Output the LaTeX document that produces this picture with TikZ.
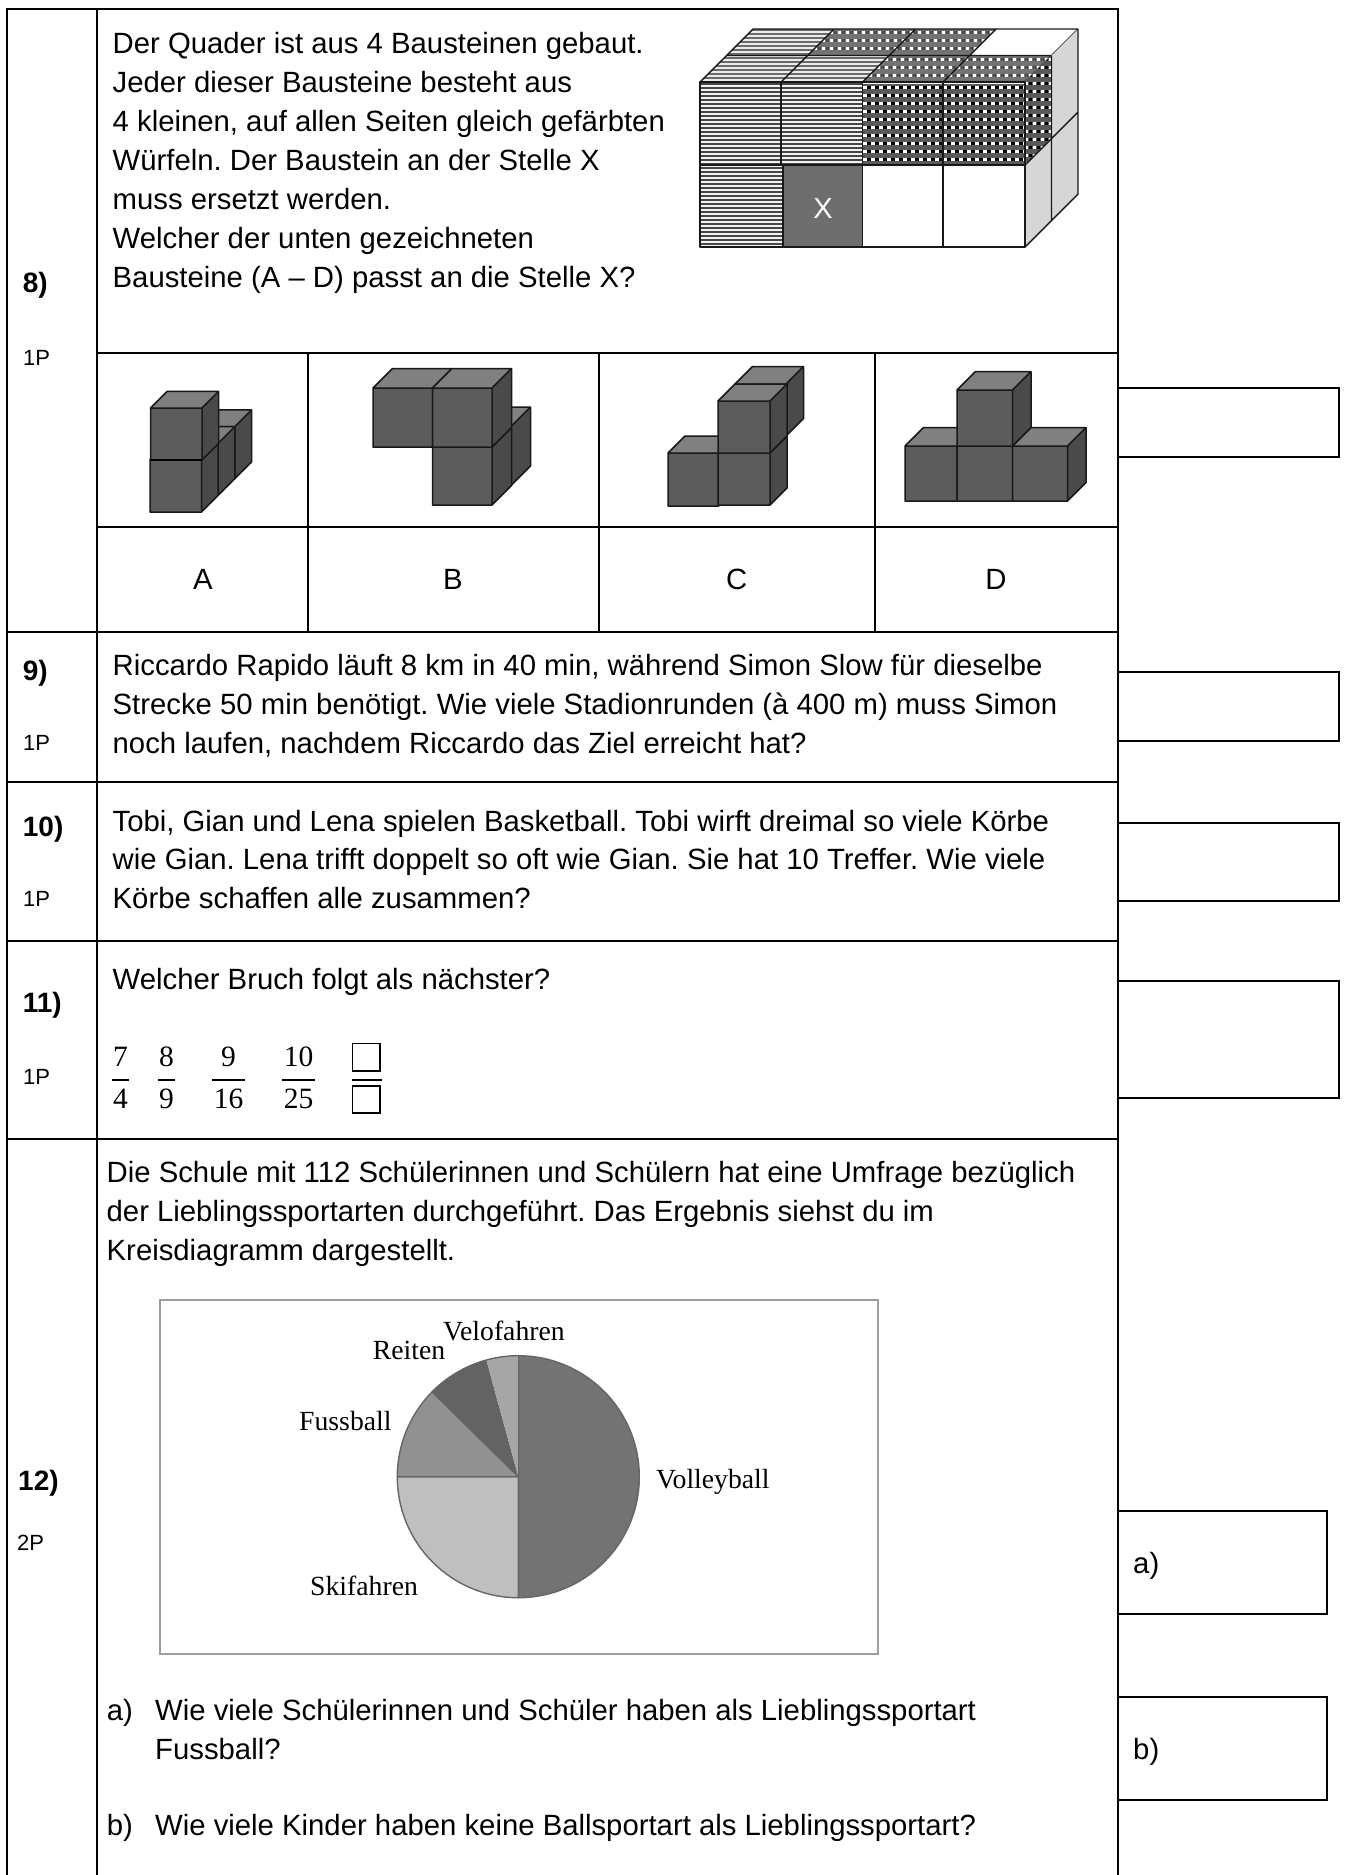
\documentclass[tikz,border=0pt]{standalone}
\usepackage{fontspec}
\setmainfont{Liberation Sans}
\newfontfamily\chartfont{Liberation Serif}
\frenchspacing
\tikzset{
  rulex/.style={draw=black,line width=2pt},
  boxline/.style={draw=black,line width=2.2pt},
  edge/.style={draw=black!90,line width=1.4pt,line join=round},
  cubeedge/.style={draw=black!90,line width=1.5pt,line join=round},
  txt/.style={anchor=base west,inner sep=0pt,yshift=-1pt,font=\fontsize{29.3}{32}\selectfont},
  ctxt/.style={anchor=base,inner sep=0pt,yshift=-1pt,font=\fontsize{29.3}{32}\selectfont},
  num/.style={anchor=base west,inner sep=0pt,font=\fontsize{28}{30}\selectfont\bfseries},
  pts/.style={anchor=base west,inner sep=0pt,font=\fontsize{22}{26}\selectfont},
  frac/.style={anchor=base,inner sep=0pt,yshift=-1pt,font=\chartfont\fontsize{29.5}{32}\selectfont},
  lab/.style={anchor=base west,inner sep=0pt,font=\chartfont\fontsize{27.7}{30}\selectfont},
  fracbar/.style={draw=black,line width=1.6pt},
  slice/.style={draw=black!60,line width=1.4pt,line join=round},
}
% cube: front-left x, front-bottom y, width, height, depth
\newcommand\bcube[5]{%
  \fill[black!71] (#1+#3,#2) -- (#1+#3+#5,#2-#5) -- (#1+#3+#5,#2-#4-#5) -- (#1+#3,#2-#4) -- cycle;
  \fill[black!50] (#1,#2-#4) -- (#1+#5,#2-#4-#5) -- (#1+#3+#5,#2-#4-#5) -- (#1+#3,#2-#4) -- cycle;
  \fill[black!64] (#1,#2) rectangle (#1+#3,#2-#4);
  \draw[cubeedge] (#1,#2) rectangle (#1+#3,#2-#4)
    (#1,#2-#4) -- (#1+#5,#2-#4-#5) -- (#1+#3+#5,#2-#4-#5) -- (#1+#3,#2-#4)
    (#1+#3+#5,#2-#4-#5) -- (#1+#3+#5,#2-#5) -- (#1+#3,#2);
}
% stripes over y-range: first, second, last, colour
\newcommand\stripepat[4]{%
  \foreach \yy in {#1,#2,...,#3}{\draw[#4,line width=1.1pt] (695,\yy) -- (1085,\yy);}
}
% dots: x0,x1,y0,y1,dark,base
\newcommand\dotpat[6]{%
  \fill[#6] (#1,#3) rectangle (#2,#4);
  \pgfmathsetmacro\nx{int((#2-#1)/8)}%
  \pgfmathsetmacro\ny{int((#4-#3)/8)}%
  \foreach \j in {0,...,\ny}{%
    \foreach \i in {0,...,\nx}{%
      \fill[white] (#1+0.5+8*\i,#3+1.5+8*\j) rectangle +(3.6,3.6);
      \fill[#5] (#1+4.5+8*\i,#3+1.5+8*\j) rectangle +(3.6,3.6);
    }}%
}
\begin{document}
\begin{tikzpicture}[x=1pt,y=-1pt]
\useasboundingbox (0,0) rectangle (1346,1875);
\fill[white] (0,0) rectangle (1346,1875);

% ---- table rules
\draw[rulex] (7,1875) -- (7,9) -- (1117.7,9) -- (1117.7,1875);
\draw[rulex] (97,9) -- (97,1875);
\draw[rulex] (97,353) -- (1117.7,353);
\draw[rulex] (97,527) -- (1117.7,527);
\draw[rulex] (7,631.5) -- (1117.7,631.5);
\draw[rulex] (7,782) -- (1117.7,782);
\draw[rulex] (7,940.5) -- (1117.7,940.5);
\draw[rulex] (7,1138.5) -- (1117.7,1138.5);
\draw[rulex] (308,353) -- (308,631.5);
\draw[rulex] (599,353) -- (599,631.5);
\draw[rulex] (875,353) -- (875,631.5);

% ---- answer boxes
\draw[boxline] (1117.7,388) -- (1339,388) -- (1339,457) -- (1117.7,457);
\draw[boxline] (1117.7,672) -- (1339,672) -- (1339,741) -- (1117.7,741);
\draw[boxline] (1117.7,823) -- (1339,823) -- (1339,901) -- (1117.7,901);
\draw[boxline] (1117.7,981) -- (1339,981) -- (1339,1098) -- (1117.7,1098);
\draw[boxline] (1117.7,1511) -- (1327,1511) -- (1327,1614) -- (1117.7,1614);
\draw[boxline] (1117.7,1697) -- (1327,1697) -- (1327,1800) -- (1117.7,1800);
\node[txt] (ansa) at (1133,1572.7) {a)};
\node[txt] (ansb) at (1133,1758) {b)};

% ---- row labels
\node[num] (n8) at (22.7,292.7) {8)};
\node[pts] (p8) at (23,365.7) {1P};
\node[num] (n9) at (22.7,680.6) {9)};
\node[pts] (p9) at (23,750.6) {1P};
\node[num] (n10) at (22.7,836) {10)};
\node[pts] (p10) at (23,906) {1P};
\node[num] (n11) at (22.7,1012) {11)};
\node[pts] (p11) at (23,1084) {1P};
\node[num] (n12) at (18,1490) {12)};
\node[pts] (p12) at (17,1550.6) {2P};

% ---- question 8 text
\node[txt] (q81) at (112.5,52.7) {Der Quader ist aus 4 Bausteinen gebaut.};
\node[txt] (q82) at (112.5,91.6) {Jeder dieser Bausteine besteht aus};
\node[txt] (q83) at (112.5,130.5) {4 kleinen, auf allen Seiten gleich gefärbten};
\node[txt] (q84) at (112.5,169.4) {Würfeln. Der Baustein an der Stelle X};
\node[txt] (q85) at (112.5,208.3) {muss ersetzt werden.};
\node[txt] (q86) at (112.5,247.2) {Welcher der unten gezeichneten};
\node[txt] (q87) at (112.5,286.1) {Bausteine (A – D) passt an die Stelle X?};

\node[ctxt] (la) at (203,588.4) {A};
\node[ctxt] (lb) at (453,588.4) {B};
\node[ctxt] (lc) at (736.6,588.4) {C};
\node[ctxt] (ld) at (996,588.4) {D};

% ---- quader: top faces
\begin{scope}
  \clip (700,82) -- (753,29) -- (834,29) -- (781,82) -- cycle;
  \fill[black!8] (695,25) rectangle (1085,90);
  \stripepat{30}{34}{82}{black!58}
\end{scope}
\begin{scope}
  \clip (781,82) -- (807.5,55.5) -- (888,55.5) -- (862.7,82) -- cycle;
  \fill[black!8] (695,25) rectangle (1085,90);
  \stripepat{30}{34}{82}{black!58}
\end{scope}
\begin{scope}
  \clip (807.5,55.5) -- (834,29) -- (996,29) -- (969.5,55.5) -- cycle;
  \dotpat{805}{1000}{29}{56}{black!70}{black!55}
\end{scope}
\begin{scope}
  \clip (862.7,82) -- (889.2,55.5) -- (1051.5,55.5) -- (1025,82) -- cycle;
  \dotpat{860}{1055}{56}{82}{black!70}{black!55}
\end{scope}
\fill[white] (996,29) -- (1078,29) -- (1051.5,55.5) -- (969.5,55.5) -- cycle;
\draw[edge] (700,82) -- (753,29) -- (1078,29)
            (781,82) -- (834,29) (862.7,82) -- (915.5,29) (943,82) -- (996,29)
            (1025,82) -- (1078,29)
            (726.5,55.5) -- (1051.5,55.5);
% ---- quader: right faces
\fill[black!16] (1025,165) -- (1078,112) -- (1078,29) -- (1025,82) -- cycle;
\fill[black!16] (1025,247) -- (1078,194) -- (1078,112) -- (1025,165) -- cycle;
\begin{scope}
  \clip (1025,165) -- (1051.5,138.5) -- (1051.5,55.5) -- (1025,82) -- cycle;
  \dotpat{1024}{1052}{56}{165}{black}{black!65}
\end{scope}
\draw[edge] (1078,29) -- (1078,194) -- (1025,247)
            (1051.5,55.5) -- (1051.5,220.5)
            (1025,165) -- (1078,112);
% ---- quader: front faces
\begin{scope}
  \clip (700,82) rectangle (862.7,247);
  \fill[black!5] (700,82) rectangle (862.7,247);
  \stripepat{84}{88}{247}{black!72}
\end{scope}
\fill[white] (862.7,165) rectangle (1025,247);
\fill[black!57] (783,165) rectangle (862.7,247);
\begin{scope}
  \clip (862.7,82) rectangle (1025,165);
  \dotpat{862.7}{1030}{84}{166}{black}{black!65}
\end{scope}
\draw[edge] (700,82) rectangle (1025,247)
            (700,165) -- (1025,165)
            (781,82) -- (781,165) (783,165) -- (783,247)
            (862.7,82) -- (862.7,247)
            (943,82) -- (943,247);
\node[inner sep=0pt,anchor=base,text=white,font=\fontsize{29}{30}\selectfont] (xlab) at (823,218) {X};

% ---- option A
\bcube{183.4}{478.6}{51.5}{52}{16.7}
\bcube{166.7}{495.3}{51.5}{52}{16.7}
\bcube{150}{512}{51.5}{52}{16.7}
\bcube{150.5}{460}{51.5}{52}{16.7}
\draw[black,line width=2.6pt] (150.5,460) -- (202,460);
% ---- option B
\bcube{451.5}{485.5}{59.5}{59}{19.5}
\bcube{432.5}{505}{59.5}{58}{19.5}
\bcube{373}{447}{59.5}{59}{19.5}
\bcube{432.5}{447}{59.5}{59}{19.5}
% ---- option C
\bcube{668}{506}{50.5}{53}{17}
\bcube{735}{436}{51}{52}{17.5}
\bcube{718}{505}{52}{52}{17}
\bcube{718}{453}{52}{52}{17}
% ---- option D
\bcube{905}{501}{52}{55}{18.5}
\bcube{957}{501}{55.5}{55}{18.5}
\bcube{1012.5}{501}{55}{55}{18.5}
\bcube{957}{446}{55.5}{56}{18.5}

% ---- question 9-11 text
\node[txt] (q91) at (112.5,674.5) {Riccardo Rapido läuft 8 km in 40 min, während Simon Slow für dieselbe};
\node[txt] (q92) at (112.5,713.4) {Strecke 50 min benötigt. Wie viele Stadionrunden (à 400 m) muss Simon};
\node[txt] (q93) at (112.5,752.3) {noch laufen, nachdem Riccardo das Ziel erreicht hat?};
\node[txt] (q101) at (112.5,830) {Tobi, Gian und Lena spielen Basketball. Tobi wirft dreimal so viele Körbe};
\node[txt] (q102) at (112.5,868.9) {wie Gian. Lena trifft doppelt so oft wie Gian. Sie hat 10 Treffer. Wie viele};
\node[txt] (q103) at (112.5,907.8) {Körbe schaffen alle zusammen?};
\node[txt] (q111) at (112.5,988) {Welcher Bruch folgt als nächster?};

% ---- fractions
\node[frac] (f1n) at (120.5,1065) {7};
\node[frac] (f1d) at (120.5,1107.7) {4};
\draw[fracbar] (112,1080) -- (129,1080);
\node[frac] (f2n) at (166.5,1065) {8};
\node[frac] (f2d) at (166.5,1107.7) {9};
\draw[fracbar] (158,1080) -- (175,1080);
\node[frac] (f3n) at (228.5,1065) {9};
\node[frac] (f3d) at (228.5,1107.7) {16};
\draw[fracbar] (212,1080) -- (245,1080);
\node[frac] (f4n) at (298.5,1065) {10};
\node[frac] (f4d) at (298.5,1107.7) {25};
\draw[fracbar] (282,1080) -- (315,1080);
\draw[fracbar] (352,1080) -- (382,1080);
\draw[black,line width=1.5pt] (352.5,1043.5) rectangle (380,1071);
\draw[black,line width=1.5pt] (352.5,1086) rectangle (380,1113);

% ---- question 12 text
\node[txt] (q121) at (106.5,1181.5) {Die Schule mit 112 Schülerinnen und Schülern hat eine Umfrage bezüglich};
\node[txt] (q122) at (106.5,1220.4) {der Lieblingssportarten durchgeführt. Das Ergebnis siehst du im};
\node[txt] (q123) at (106.5,1259.3) {Kreisdiagramm dargestellt.};
\node[txt] (qa) at (106.7,1719.6) {a)};
\node[txt] (qa1) at (155,1719.6) {Wie viele Schülerinnen und Schüler haben als Lieblingssportart};
\node[txt] (qa2) at (155,1758) {Fussball?};
\node[txt] (qb) at (106.7,1834.6) {b)};
\node[txt] (qb1) at (155,1834.6) {Wie viele Kinder haben keine Ballsportart als Lieblingssportart?};

% ---- chart
\draw[draw=black!38,line width=2pt] (160,1299.5) rectangle (878,1654);
\begin{scope}[shift={(518.3,1476.7)},x=1pt,y=1pt]
  \filldraw[slice,fill=black!55] (0,0) -- (90:121) arc[start angle=90,end angle=-90,radius=121] -- cycle;
  \filldraw[slice,fill=black!25] (0,0) -- (180:121) arc[start angle=180,end angle=270,radius=121] -- cycle;
  \filldraw[slice,fill=black!43] (0,0) -- (135.5:121) arc[start angle=135.5,end angle=180,radius=121] -- cycle;
  \filldraw[fill=black!61,draw=none] (0,0) -- (105.3:121) arc[start angle=105.3,end angle=135.5,radius=121] -- cycle;
  \filldraw[fill=black!35,draw=none] (0,0) -- (90:121) arc[start angle=90,end angle=105.3,radius=121] -- cycle;
  \draw[slice] (90:121) arc[start angle=90,end angle=135.5,radius=121];
  \draw[slice] (0,121) -- (0,-121);
\end{scope}
\node[lab] (vel) at (443,1340.7) {Velofahren};
\node[lab] (rei) at (372.7,1359) {Reiten};
\node[lab] (fus) at (299,1430.7) {Fussball};
\node[lab] (vol) at (656,1488) {Volleyball};
\node[lab] (ski) at (310,1595.7) {Skifahren};
\end{tikzpicture}
\end{document}
